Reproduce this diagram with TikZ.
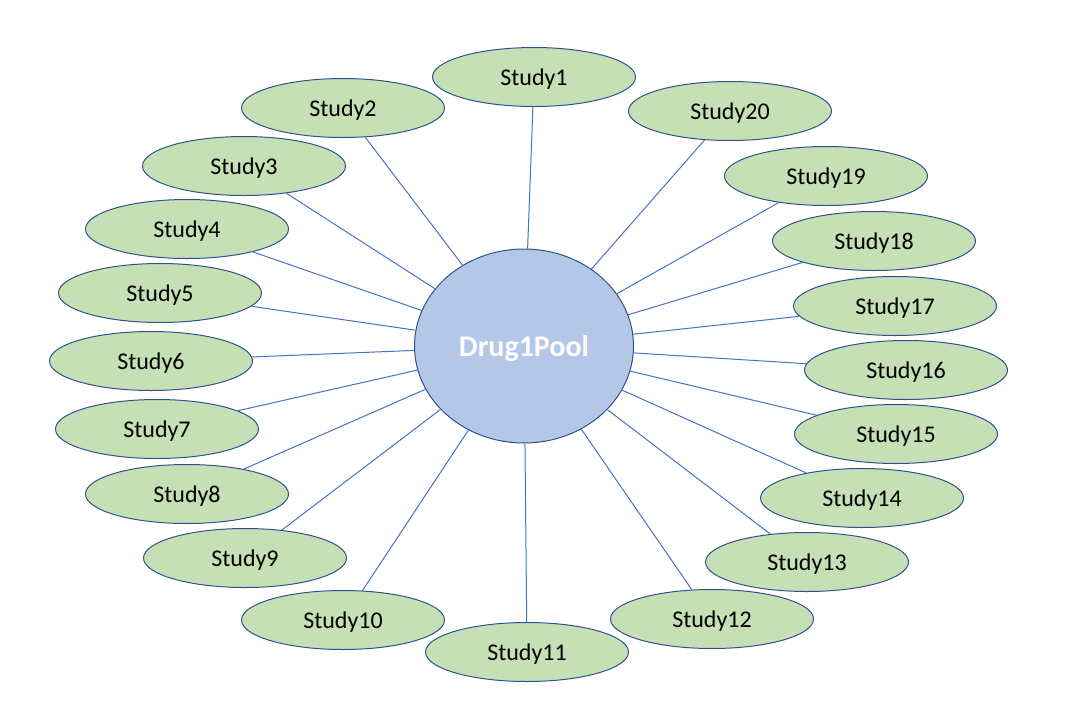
\documentclass[tikz,border=0pt]{standalone}
\usepackage{fontspec}
\setmainfont{Carlito}
\usepackage{xcolor}
\usepackage{tikz}
\usetikzlibrary{shapes.geometric}
\definecolor{poolfill}{HTML}{B4C7E7}
\definecolor{studyfill}{HTML}{C5E0B4}
\definecolor{rim}{HTML}{2F528F}
\definecolor{linkblue}{HTML}{4472C4}

\begin{document}
\begin{tikzpicture}[
  x=0.5pt, y=-0.5pt,
  study/.style={ellipse, draw=rim, fill=studyfill, line width=0.5pt,
                minimum width=101.5pt, minimum height=29.5pt, inner sep=0pt,
                text depth=0pt, font=\fontsize{12}{14}\selectfont},
  pool/.style={ellipse, draw=rim, fill=poolfill, line width=0.5pt,
               minimum width=109.5pt, minimum height=97pt, inner sep=0pt,
               text depth=0pt, text=white, font=\fontsize{15}{18}\selectfont\bfseries},
  spoke/.style={draw=linkblue, line width=0.5pt}
]
\useasboundingbox (0,0) rectangle (1077,713);
\node[pool] (pool) at (524,346) {Drug1Pool};
% studies around the pool
\foreach \i/\px/\py in {1/534/77, 2/343/108, 3/244/166, 4/187/229, 5/160/293,
    6/151/361, 7/157/429, 8/187/494, 9/245/558, 10/343/620,
    11/527/652, 12/712/619, 13/807/562, 14/862/498, 15/896/434,
    16/906/370, 17/895/306, 18/874/241, 19/826/176, 20/730/111} {
  \node[study] (s\i) at (\px,\py) {Study\i};
  \draw[spoke] (pool) -- (s\i);
}
\end{tikzpicture}
\end{document}
